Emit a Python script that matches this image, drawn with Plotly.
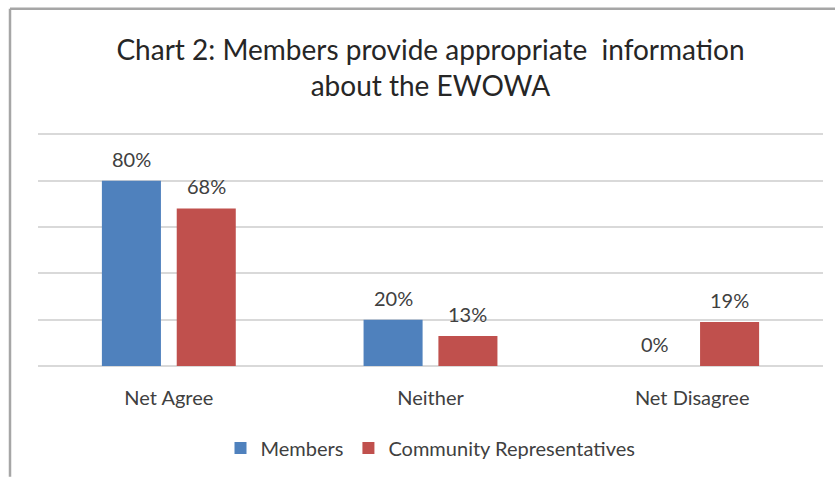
import plotly.graph_objects as go

categories = ["Net Agree", "Neither", "Net Disagree"]
members = [80, 20, 0]
community_reps = [68, 13, 19]
series_names = ["Members", "Community Representatives"]
series_colors = ["#4F81BD", "#C0504D"]

FONT = "Lato"
TEXT = "#404040"

fig = go.Figure()
for name, vals, col in zip(series_names, [members, community_reps], series_colors):
    fig.add_trace(go.Bar(
        x=categories, y=vals, name=name, marker_color=col,
        marker_line_width=0,
    ))

# value labels above each bar, offset to each bar's slot in the group
slot_px = 74.8
for i, vals in enumerate([members, community_reps]):
    shift = -slot_px / 2 if i == 0 else slot_px / 2
    for c, v in zip(categories, vals):
        fig.add_annotation(
            x=c, y=v, text=f"{v}%", showarrow=False,
            xshift=shift, yshift=22, yanchor="middle",
            font=dict(family=FONT, size=20, color=TEXT),
        )

# plot area spans y=368.3 (0%) to y=134.3 (100%) in page pixels
PLOT_H = 234.0
def py(px):
    return (368.3 - px) / PLOT_H

# chart frame (left and top edges)
fig.add_shape(type="line", xref="paper", yref="paper",
              x0=(10 - 38) / 785, x1=(10 - 38) / 785,
              y0=py(479), y1=py(11),
              line=dict(color="#A6A6A6", width=2.5))
fig.add_shape(type="line", xref="paper", yref="paper",
              x0=(10 - 38) / 785, x1=(835 - 38) / 785,
              y0=py(11), y1=py(11),
              line=dict(color="#A6A6A6", width=2.5))

fig.update_layout(
    width=835, height=479,
    margin=dict(l=38, r=12, t=132, b=111),
    paper_bgcolor="white", plot_bgcolor="white",
    barmode="group", bargap=0.428, bargroupgap=0.211,
    title=dict(
        text="Chart 2: Members provide appropriate  information<br>about the EWOWA",
        x=(430.5) / 835, xanchor="center",
        y=1 - 60 / 479, yanchor="middle", yref="container",
        font=dict(family=FONT, size=28, color="#262626"),
    ),
    showlegend=True,
    legend=dict(
        orientation="h", x=0.5, xanchor="center",
        y=(368.3 - 451) / 236.3, yanchor="middle",
        font=dict(family=FONT, size=20, color=TEXT),
        itemsizing="constant", traceorder="normal",
    ),
    xaxis=dict(
        showgrid=False, showline=False, ticks="",
        ticklabelstandoff=18,
        tickfont=dict(family=FONT, size=20, color=TEXT),
    ),
    yaxis=dict(
        range=[0, 101], dtick=20, showgrid=True, gridcolor="#D9D9D9",
        gridwidth=2, showticklabels=False, zeroline=True,
        zerolinecolor="#D9D9D9", zerolinewidth=2, ticks="",
    ),
)

fig.write_html("out.html")
